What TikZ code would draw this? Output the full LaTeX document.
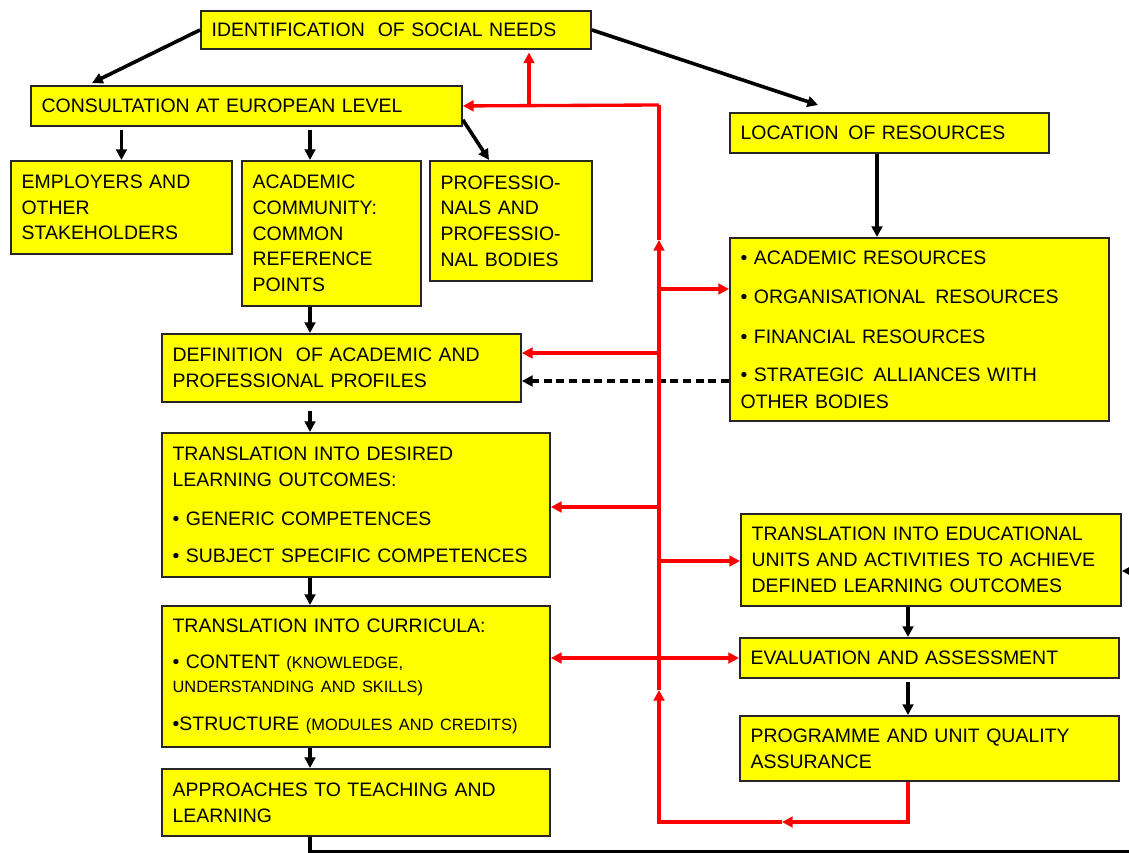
\documentclass[tikz,border=0pt]{standalone}
\usepackage{fontspec}
\setmainfont{Liberation Sans}
\usepackage{xcolor}
\usetikzlibrary{arrows.meta, positioning, calc}
\definecolor{boxyellow}{RGB}{255,255,0}
\definecolor{loopred}{RGB}{255,0,0}
\newcommand{\smalltxt}[1]{{\fontsize{12.3}{18}\selectfont #1}}

\begin{document}
\begin{tikzpicture}[x=0.75pt, y=-0.75pt,
        box/.style={draw=black!85, line width=1.4pt, fill=boxyellow, anchor=north west,
            align=left, inner xsep=8pt, inner ysep=0pt, font=\fontsize{14.6}{19.3}\selectfont},
        arr/.style={line width=2.7pt, -{Triangle[length=8pt,width=8pt]}},
        redarr/.style={loopred, line width=2.5pt, -{Triangle[length=8pt,width=8pt]}},
        redline/.style={loopred, line width=2.5pt}]
    \useasboundingbox (0,0) rectangle (1129,853);

    % boxes
    \node[box, text width=276.5pt, minimum height=28.5pt] (ident) at (200,10) {IDENTIFICATION\ \ OF SOCIAL NEEDS};
    \node[box, text width=307.25pt, minimum height=30pt] (consult) at (30,85) {CONSULTATION AT EUROPEAN LEVEL};
    \node[box, text width=149.75pt, minimum height=69.75pt] (employers) at (10,160) {EMPLOYERS AND\\OTHER\\STAKEHOLDERS};
    \node[box, text width=118.25pt, minimum height=108.75pt] (academic) at (241,160) {ACADEMIC\\COMMUNITY:\\COMMON\\REFERENCE\\POINTS};
    \node[box, text width=105.5pt, minimum height=90pt] (profess) at (429,160) {PROFESSIO-\\NALS AND\\PROFESSIO-\\NAL BODIES};
    \node[box, text width=223.25pt, minimum height=30pt] (location) at (729,112) {LOCATION\ \,OF RESOURCES};
    \node[box, text width=268.25pt, minimum height=137.25pt] (resources) at (729,237)
        {\textbullet\ ACADEMIC RESOURCES\\[10.5pt]\textbullet\ ORGANISATIONAL\ \,RESOURCES\\[10.5pt]\textbullet\ FINANCIAL RESOURCES\\[9pt]\textbullet\ STRATEGIC\ \,ALLIANCES WITH\\[1pt]OTHER BODIES};
    \node[box, text width=253.25pt, minimum height=51pt] (definition) at (161,333) {DEFINITION\ \ OF ACADEMIC AND\\PROFESSIONAL PROFILES};
    \node[box, text width=275pt, minimum height=108pt] (learning) at (161,432)
        {TRANSLATION INTO DESIRED\\LEARNING OUTCOMES:\\[10pt]\textbullet\ GENERIC COMPETENCES\\[9pt]\textbullet\ SUBJECT SPECIFIC COMPETENCES};
    \node[box, text width=275pt, minimum height=105.75pt] (curricula) at (161,605)
        {TRANSLATION INTO CURRICULA:\\[9pt]\textbullet\ CONTENT \smalltxt{(KNOWLEDGE,\\[-1.3pt]UNDERSTANDING AND SKILLS)}\\[9pt]\textbullet STRUCTURE \smalltxt{(MODULES AND CREDITS)}};
    \node[box, text width=275pt, minimum height=50.25pt] (approaches) at (161,768) {APPROACHES TO TEACHING AND\\LEARNING};
    \node[box, text width=269pt, minimum height=69pt] (units) at (740,513) {TRANSLATION INTO EDUCATIONAL\\UNITS AND ACTIVITIES TO ACHIEVE\\DEFINED LEARNING OUTCOMES};
    \node[box, text width=268.25pt, minimum height=30pt] (evaluation) at (739,637) {EVALUATION AND ASSESSMENT};
    \node[box, text width=268.25pt, minimum height=48.75pt] (quality) at (739,715) {PROGRAMME AND UNIT QUALITY\\ASSURANCE};

    % guide points
    \coordinate (c310) at (310,0);
    \coordinate (c877) at (877,0);
    \coordinate (c908) at (908,0);
    \coordinate (tu) at (529,105);
    \coordinate (tt) at (659,105);
    \coordinate (t2) at (659,240);
    \coordinate (t1) at (659,690);
    \coordinate (lb) at (659,822);
    \coordinate (lm) at (782,822);
    \coordinate (qb) at (908,822);
    \coordinate (b1) at (659,289);
    \coordinate (b2) at (659,353);
    \coordinate (b3) at (659,507);
    \coordinate (b4) at (659,561);
    \coordinate (b5) at (659,658);
    \coordinate (dl) at (700,381);
    \coordinate (f1) at (310,852);
    \coordinate (f2) at (1150,852);
    \coordinate (f3) at (1150,571);

    % black arrows
    \draw[arr] (ident.west) -- ($(consult.north west)+(62,-2)$);
    \draw[arr] (ident.east) -- ($(location.north west)+(89,-7)$);
    \draw[arr, shorten <=2pt] (consult.south -| employers.north) -- (employers.north);
    \draw[arr, shorten <=2pt] (consult.south -| c310) -- (academic.north -| c310);
    \draw[arr] ($(consult.south east)+(0,-7)$) -- ($(profess.north west)+(60,0)$);
    \draw[arr] (location.south -| c877) -- (resources.north -| c877);
    \draw[arr] (academic.south -| c310) -- (definition.north -| c310);
    \draw[arr, shorten <=6pt] (definition.south -| c310) -- (learning.north -| c310);
    \draw[arr] (learning.south -| c310) -- (curricula.north -| c310);
    \draw[arr] (curricula.south -| c310) -- (approaches.north -| c310);
    \draw[arr] (units.south -| c908) -- (evaluation.north -| c908);
    \draw[arr, shorten <=2pt] (evaluation.south -| c908) -- (quality.north -| c908);
    \draw[arr, dash pattern=on 6pt off 3.5pt] (dl -| resources.west) -- (dl -| definition.east);
    \draw[arr] (approaches.south -| c310) -- (f1) -- (f2) -- (f3) -- (f3 -| units.east);

    % red feedback loop
    \draw[redarr] (quality.south -| qb) -- (qb) -- (lm);
    \draw[redarr] (lm) -- (lb) -- (t1);
    \draw[redarr] (t1) -- (t2);
    \draw[redline] (t2) -- (tt);
    \draw[redarr] (tt) -- (consult.east);
    \draw[redarr, shorten >=2pt] (tu) -- (ident.south -| tu);
    \draw[redarr] (b1) -- (b1 -| resources.west);
    \draw[redarr] (b2) -- (b2 -| definition.east);
    \draw[redarr] (b3) -- (b3 -| learning.east);
    \draw[redarr] (b4) -- (b4 -| units.west);
    \draw[redarr] (b5) -- (b5 -| curricula.east);
    \draw[redarr] (b5) -- (b5 -| evaluation.west);
\end{tikzpicture}
\end{document}
